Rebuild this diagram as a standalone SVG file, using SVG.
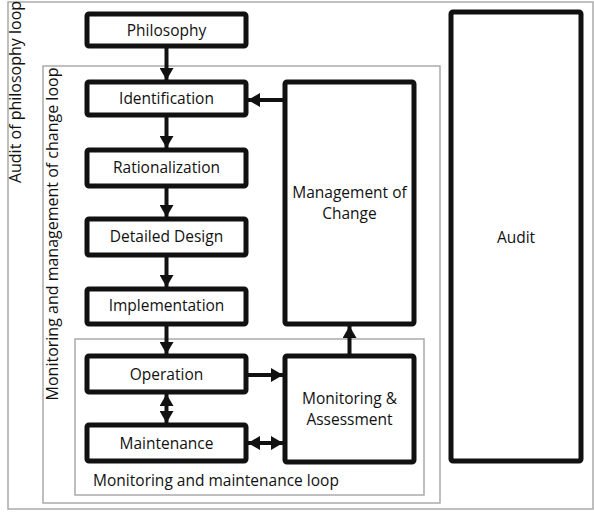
<svg xmlns="http://www.w3.org/2000/svg" width="594" height="512" viewBox="0 0 594 512">
<defs>
<style>
.node{fill:#fff;stroke:#111;stroke-width:5;}
.loop{fill:none;stroke:#aaa;stroke-width:1.5;}
.t{font-family:"Open Sans","Liberation Sans",sans-serif;font-size:15.5px;fill:#111;text-anchor:middle;}
.r{font-size:16px;}
.c{stroke:#111;stroke-width:4;fill:none;}
</style>
<marker id="ah" viewBox="0 0 12 14" refX="12" refY="7" markerWidth="12" markerHeight="14" markerUnits="userSpaceOnUse" orient="auto-start-reverse">
<path d="M0,0 L12,7 L0,14 Z" fill="#111"/>
</marker>
</defs>
<rect width="594" height="512" fill="#fff"/>
<g id="loops">
<rect class="loop" x="8" y="2" width="585" height="507"/>
<rect class="loop" x="43" y="66" width="397" height="437"/>
<rect class="loop" x="75" y="339" width="349" height="156"/>
<text class="t r" transform="translate(21,92) rotate(-90)">Audit of philosophy loop</text>
<text class="t r" transform="translate(58,234) rotate(-90)">Monitoring and management of change loop</text>
<text class="t" x="216" y="486">Monitoring and maintenance loop</text>
</g>
<g id="philosophy"><rect class="node" x="87" y="14" width="159" height="32" rx="2"/><text class="t" x="166.5" y="36">Philosophy</text></g>
<g id="identification"><rect class="node" x="87" y="82" width="159" height="33" rx="2"/><text class="t" x="166.5" y="104">Identification</text></g>
<g id="rationalization"><rect class="node" x="87" y="150" width="159" height="36" rx="2"/><text class="t" x="166.5" y="173">Rationalization</text></g>
<g id="detailed-design"><rect class="node" x="87" y="219" width="159" height="36" rx="2"/><text class="t" x="166.5" y="242">Detailed Design</text></g>
<g id="implementation"><rect class="node" x="87" y="289" width="159" height="35" rx="2"/><text class="t" x="166.5" y="311">Implementation</text></g>
<g id="operation"><rect class="node" x="87" y="356" width="159" height="36" rx="2"/><text class="t" x="166.5" y="380">Operation</text></g>
<g id="maintenance"><rect class="node" x="87" y="425" width="159" height="36" rx="2"/><text class="t" x="166.5" y="449">Maintenance</text></g>
<g id="management-of-change"><rect class="node" x="285" y="82" width="129" height="242" rx="2"/><text class="t" x="349.5" y="198">Management of</text><text class="t" x="349.5" y="219">Change</text></g>
<g id="monitoring-assessment"><rect class="node" x="285" y="356" width="129" height="106" rx="2"/><text class="t" x="349.5" y="404">Monitoring &amp;</text><text class="t" x="349.5" y="425">Assessment</text></g>
<g id="audit"><rect class="node" x="451" y="12" width="130" height="449" rx="2"/><text class="t" x="516" y="243">Audit</text></g>
<g id="connectors">
<line class="c" x1="166.5" y1="48" x2="166.5" y2="80" marker-end="url(#ah)"/>
<line class="c" x1="166.5" y1="117" x2="166.5" y2="148" marker-end="url(#ah)"/>
<line class="c" x1="166.5" y1="188" x2="166.5" y2="217" marker-end="url(#ah)"/>
<line class="c" x1="166.5" y1="257" x2="166.5" y2="287" marker-end="url(#ah)"/>
<line class="c" x1="166.5" y1="326" x2="166.5" y2="354" marker-end="url(#ah)"/>
<line class="c" x1="166.5" y1="394" x2="166.5" y2="423" marker-start="url(#ah)" marker-end="url(#ah)"/>
<line class="c" x1="248" y1="443" x2="283" y2="443" marker-start="url(#ah)" marker-end="url(#ah)"/>
<line class="c" x1="248" y1="375" x2="283" y2="375" marker-end="url(#ah)"/>
<line class="c" x1="283" y1="100" x2="248" y2="100" marker-end="url(#ah)"/>
<line class="c" x1="349.5" y1="354" x2="349.5" y2="326" marker-end="url(#ah)"/>
</g>
</svg>
